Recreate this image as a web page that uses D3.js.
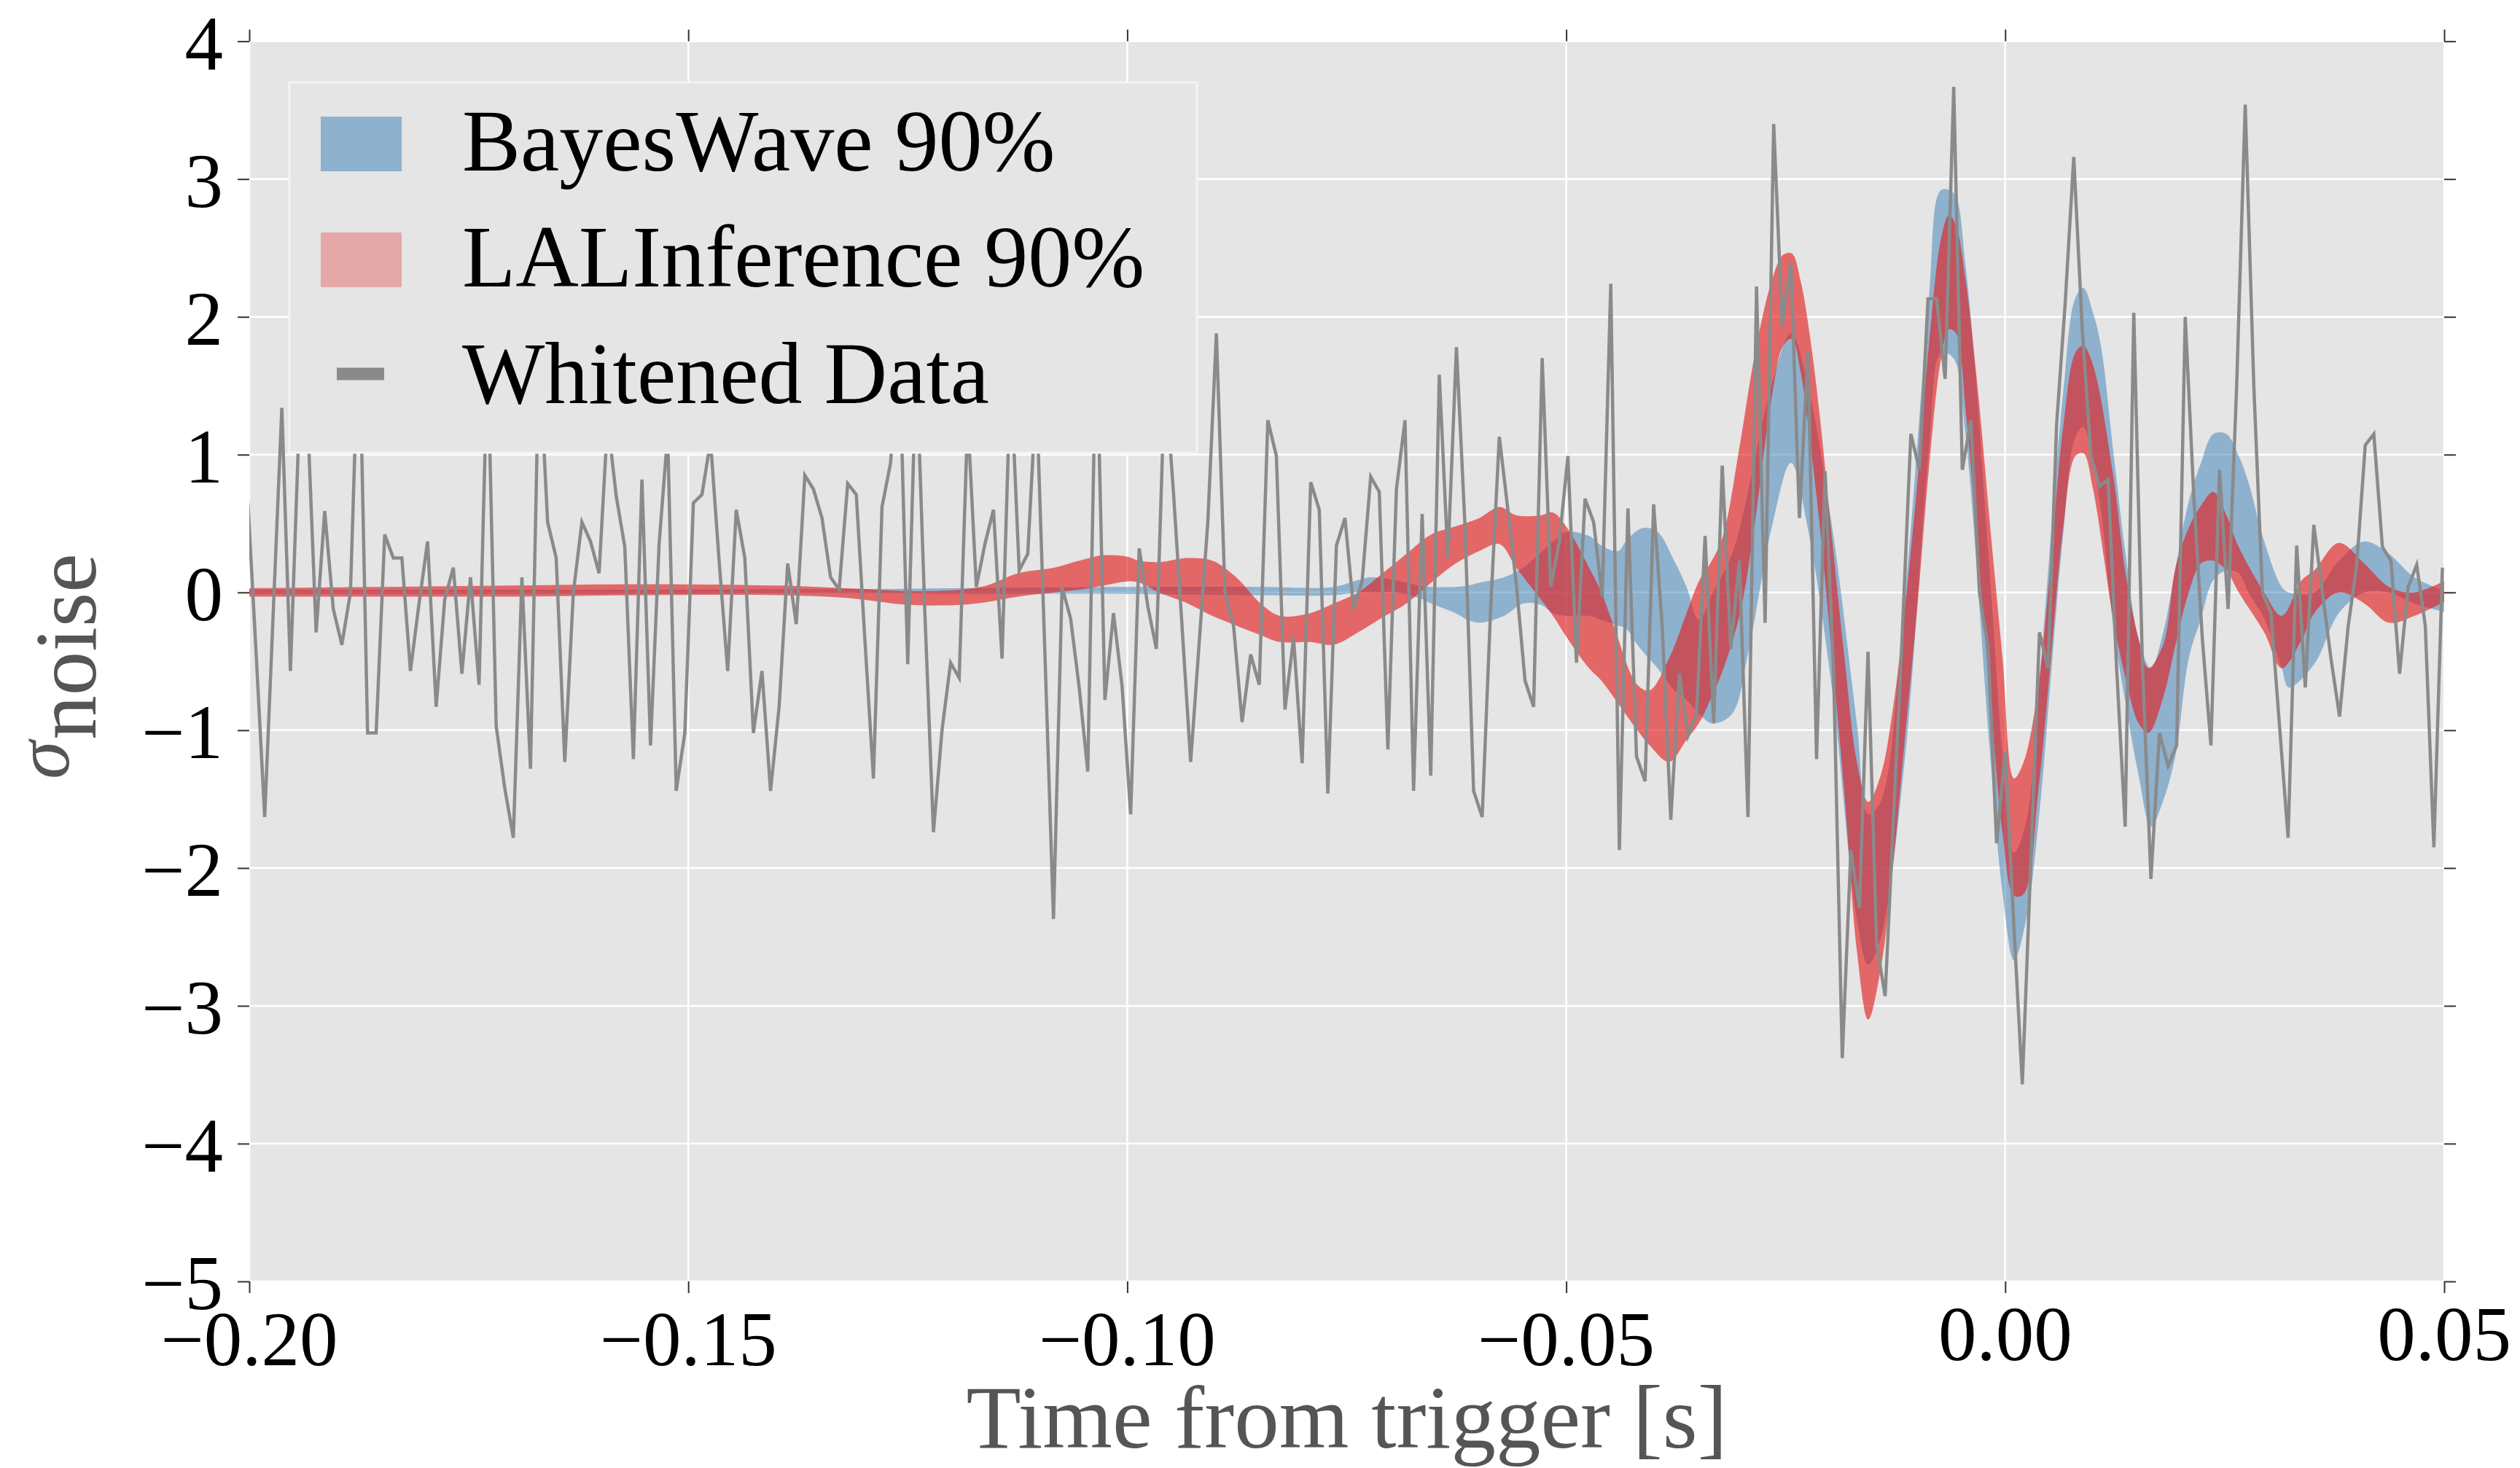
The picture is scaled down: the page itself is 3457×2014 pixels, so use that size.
<!DOCTYPE html>
<html>
<head>
<meta charset="utf-8">
<script src="https://cdn.jsdelivr.net/npm/d3@7"></script>
<style>
  html, body { margin: 0; padding: 0; background: #ffffff; }
  svg { display: block; }
  text { font-family: "Liberation Serif", "Times New Roman", serif; }
</style>
</head>
<body>
<svg id="chart" width="3457" height="2014"></svg>
<script>
// Whitened detector strain, in units of the noise standard deviation.
const sampleRate = 1024;          // samples per second
const tFirst = -0.2002;           // time of the first sample [s]
const whitened = [
  0.70, -0.44, -1.63, -0.14, 1.34, -0.57, 1.20, 1.28, -0.29, 0.59,
  -0.12, -0.38, 0.00, 2.00, -1.02, -1.02, 0.42, 0.25, 0.25, -0.57,
  -0.08, 0.37, -0.83, -0.05, 0.18, -0.59, 0.11, -0.67, 1.75, -0.97,
  -1.42, -1.78, 0.11, -1.28, 1.75, 0.51, 0.25, -1.23, 0.00, 0.51,
  0.37, 0.14, 1.25, 0.70, 0.33, -1.21, 0.82, -1.11, 0.35, 1.15,
  -1.44, -1.02, 0.65, 0.71, 1.10, 0.23, -0.57, 0.60, 0.25, -1.02,
  -0.57, -1.44, -0.83, 0.21, -0.23, 0.85, 0.75, 0.54, 0.11, 0.02,
  0.79, 0.71, -0.34, -1.35, 0.62, 0.94, 1.80, -0.52, 1.70, -0.15,
  -1.74, -1.00, -0.51, -0.62, 1.27, 0.04, 0.35, 0.60, -0.48, 1.60,
  0.16, 0.28, 1.46, -0.44, -2.37, 0.04, -0.19, -0.69, -1.30, 1.95,
  -0.78, -0.15, -0.68, -1.61, 0.32, -0.10, -0.41, 1.60, 0.72, -0.25,
  -1.23, -0.36, 0.51, 1.88, 0.00, -0.24, -0.94, -0.45, -0.67, 1.25,
  0.99, -0.85, -0.33, -1.24, 0.80, 0.60, -1.46, 0.34, 0.54, -0.12,
  0.08, 0.84, 0.73, -1.14, 0.75, 1.25, -1.44, 0.57, -1.33, 1.58,
  0.25, 1.78, 0.48, -1.44, -1.63, -0.10, 1.13, 0.60, 0.05, -0.64,
  -0.83, 1.70, 0.04, 0.37, 0.99, -0.51, 0.68, 0.51, -0.03, 2.24,
  -1.87, 0.61, -1.19, -1.37, 0.64, -0.25, -1.65, -0.59, -1.04, -0.88,
  0.41, -0.95, 0.92, -0.41, 0.23, -1.63, 2.22, -0.22, 3.40, 1.93,
  2.40, 0.54, 1.75, -1.21, 0.88, -0.60, -3.38, -1.87, -2.29, -0.43,
  -2.55, -2.93, -1.60, -0.30, 1.15, 0.89, 2.13, 2.13, 1.55, 3.67,
  0.89, 1.25, 0.00, -0.40, -1.82, -1.16, -2.40, -3.57, -1.94, -0.29,
  -0.55, 1.22, 2.10, 3.16, 1.90, 0.99, 0.77, 0.82, -0.55, -1.70,
  2.03, -0.50, -2.08, -1.02, -1.26, -1.11, 2.00, 0.70, -0.34, -1.11,
  0.89, -0.12, 1.50, 3.54, 1.50, 0.00, -0.15, -0.97, -1.78, 0.34,
  -0.69, 0.49, 0.00, -0.48, -0.90, -0.25, 0.20, 1.07, 1.15, 0.33,
  0.23, -0.59, 0.04, 0.20, -0.24, -1.85, 0.18
];

// BayesWave 90% credible band
const bwTime = [
  -0.2005, -0.16, -0.13, -0.12, -0.10, -0.085, -0.0765, -0.0737, -0.0723, -0.0695,
  -0.0668, -0.0654, -0.0626, -0.0612, -0.0599, -0.0571, -0.0549, -0.0529, -0.0515, -0.0499,
  -0.0474, -0.0460, -0.0441, -0.0432, -0.0419, -0.0410, -0.0396, -0.0377, -0.0363, -0.0349,
  -0.0333, -0.0311, -0.0294, -0.0266, -0.0244, -0.0225, -0.0197, -0.0169, -0.0156, -0.0142,
  -0.0114, -0.0087, -0.0073, -0.0059, -0.0045, -0.0017, -0.0003, 0.0010, 0.0024, 0.0038,
  0.0066, 0.0080, 0.0089, 0.0100, 0.0109, 0.0123, 0.0137, 0.0152, 0.0166, 0.0180,
  0.0194, 0.0209, 0.0223, 0.0237, 0.0252, 0.0266, 0.0277, 0.0295, 0.0315, 0.0323,
  0.0352, 0.0380, 0.0409, 0.0437, 0.0466, 0.0505
];
const bwLower = [
  -0.01, -0.01, -0.005, -0.01, -0.01, -0.02, -0.02, 0.00, 0.00, 0.00,
  -0.04, -0.08, -0.15, -0.20, -0.22, -0.17, -0.08, -0.09, -0.15, -0.17,
  -0.17, -0.20, -0.24, -0.26, -0.38, -0.45, -0.55, -0.71, -0.78, -0.88,
  -0.95, -0.88, -0.48, 0.47, 0.94, 0.47, -0.71, -2.37, -2.70, -2.51,
  -1.19, 1.03, 1.74, 1.70, 1.13, -1.19, -2.18, -2.67, -2.37, -1.66,
  0.42, 1.13, 1.20, 0.94, 0.60, -0.24, -0.80, -1.33, -1.70, -1.51,
  -1.18, -0.48, -0.19, 0.09, 0.16, 0.14, 0.00, -0.19, -0.55, -0.69,
  -0.52, -0.15, 0.00, 0.00, -0.08, -0.15
];
const bwUpper = [
  0.02, 0.02, 0.025, 0.03, 0.04, 0.04, 0.04, 0.09, 0.11, 0.09,
  0.05, 0.04, 0.04, 0.05, 0.07, 0.11, 0.18, 0.29, 0.37, 0.44,
  0.41, 0.34, 0.30, 0.37, 0.45, 0.47, 0.44, 0.23, 0.04, -0.20,
  0.00, 0.28, 0.70, 1.51, 1.88, 1.51, 0.47, -0.95, -1.61, -1.52,
  0.00, 2.12, 2.92, 2.90, 2.36, 0.09, -1.19, -1.89, -1.66, -0.71,
  1.45, 2.14, 2.21, 2.03, 1.79, 1.03, 0.28, -0.34, -0.55, -0.29,
  0.18, 0.66, 0.94, 1.15, 1.15, 0.99, 0.80, 0.37, 0.04, 0.00,
  0.00, 0.23, 0.37, 0.28, 0.11, 0.00
];

// LALInference 90% credible band
const liTime = [
  -0.2005, -0.185, -0.17, -0.155, -0.14, -0.132, -0.125, -0.119, -0.116, -0.1124,
  -0.1083, -0.1055, -0.1027, -0.1000, -0.0986, -0.0964, -0.0931, -0.0903, -0.0876, -0.0848,
  -0.0826, -0.0792, -0.0765, -0.0737, -0.0709, -0.0682, -0.0654, -0.0626, -0.0599, -0.0576,
  -0.0557, -0.0529, -0.0515, -0.0499, -0.0474, -0.0460, -0.0446, -0.0419, -0.0405, -0.0383,
  -0.0363, -0.0349, -0.0336, -0.0322, -0.0302, -0.0286, -0.0266, -0.0253, -0.0243, -0.0233,
  -0.0222, -0.0211, -0.0197, -0.0183, -0.0169, -0.0156, -0.0142, -0.0128, -0.0114, -0.0100,
  -0.0087, -0.0073, -0.0064, -0.0056, -0.0045, -0.0031, -0.0017, -0.0003, 0.0010, 0.0021,
  0.0038, 0.0052, 0.0066, 0.0080, 0.0089, 0.0100, 0.0123, 0.0137, 0.0152, 0.0163,
  0.0180, 0.0194, 0.0209, 0.0223, 0.0237, 0.0252, 0.0266, 0.0295, 0.0315, 0.0338,
  0.0352, 0.0380, 0.0409, 0.0437, 0.0466, 0.0505
];
const liLower = [
  -0.03, -0.03, -0.03, -0.02, -0.02, -0.04, -0.09, -0.09, -0.07, -0.03,
  0.00, 0.02, 0.05, 0.08, 0.07, 0.00, -0.08, -0.17, -0.24, -0.31,
  -0.36, -0.36, -0.38, -0.29, -0.18, -0.08, 0.07, 0.21, 0.30, 0.35,
  0.18, -0.05, -0.17, -0.33, -0.55, -0.64, -0.76, -1.00, -1.11, -1.23,
  -1.07, -0.95, -0.78, -0.57, -0.15, 0.47, 1.41, 1.79, 1.84, 1.60,
  1.08, 0.47, -0.48, -1.47, -2.60, -3.10, -2.74, -1.99, -1.04, -0.10,
  0.89, 1.70, 1.91, 1.88, 1.32, 0.28, -0.76, -1.75, -2.20, -2.19,
  -1.42, -0.48, 0.47, 0.99, 1.01, 0.75, -0.19, -0.62, -0.95, -1.02,
  -0.76, -0.38, 0.00, 0.21, 0.23, 0.16, 0.00, -0.29, -0.55, -0.34,
  -0.15, 0.00, -0.08, -0.22, -0.17, -0.05
];
const liUpper = [
  0.03, 0.04, 0.05, 0.06, 0.05, 0.03, 0.01, 0.02, 0.05, 0.14,
  0.18, 0.23, 0.27, 0.26, 0.23, 0.22, 0.25, 0.23, 0.11, -0.08,
  -0.17, -0.15, -0.08, 0.00, 0.14, 0.28, 0.42, 0.48, 0.54, 0.62,
  0.56, 0.56, 0.58, 0.47, 0.18, 0.00, -0.24, -0.67, -0.71, -0.48,
  -0.15, 0.08, 0.21, 0.40, 1.08, 1.70, 2.26, 2.45, 2.46, 2.26,
  1.84, 1.27, 0.37, -0.48, -1.23, -1.52, -1.33, -0.85, -0.10, 0.80,
  1.79, 2.57, 2.74, 2.66, 2.26, 1.46, 0.47, -0.48, -1.35, -1.23,
  -0.67, 0.23, 1.20, 1.74, 1.79, 1.65, 0.85, 0.14, -0.34, -0.55,
  -0.38, 0.18, 0.47, 0.63, 0.73, 0.56, 0.33, 0.00, -0.17, 0.09,
  0.16, 0.36, 0.21, 0.04, 0.00, 0.10
];

const xTicks = [-0.20, -0.15, -0.10, -0.05, 0.00, 0.05];
const yTicks = [-5, -4, -3, -2, -1, 0, 1, 2, 3, 4];
const legendLabels = ["BayesWave 90%", "LALInference 90%", "Whitened Data"];
const xLabel = "Time from trigger [s]";

// ---- layout -----------------------------------------------------------
const W = 3457, H = 2014;
const plot = { left: 342, right: 3353, top: 56.6, bottom: 1758 };
const colors = {
  bg: "#e5e5e5", grid: "#ffffff", tick: "#333333", label: "#555555",
  blue: "#377eb8", red: "#e41a1c", data: "#8a8a8a"
};

const svg = d3.select("#chart");
const x = d3.scaleLinear().domain([-0.2, 0.05]).range([plot.left, plot.right]);
const y = d3.scaleLinear().domain([-5, 4]).range([plot.bottom, plot.top]);
const minus = s => s.replace("-", "\u2212");

svg.append("rect").attr("width", W).attr("height", H).attr("fill", "#ffffff");

svg.append("defs").append("clipPath").attr("id", "plotClip")
  .append("rect")
  .attr("x", plot.left).attr("y", plot.top)
  .attr("width", plot.right - plot.left).attr("height", plot.bottom - plot.top);

// axes background and grid
svg.append("rect")
  .attr("x", plot.left).attr("y", plot.top)
  .attr("width", plot.right - plot.left).attr("height", plot.bottom - plot.top)
  .attr("fill", colors.bg);

const grid = svg.append("g").attr("stroke", colors.grid).attr("stroke-width", 2.5);
grid.selectAll("line.gx").data(xTicks).join("line").attr("class", "gx")
  .attr("x1", d => x(d)).attr("x2", d => x(d))
  .attr("y1", plot.top).attr("y2", plot.bottom);
grid.selectAll("line.gy").data(yTicks).join("line").attr("class", "gy")
  .attr("x1", plot.left).attr("x2", plot.right)
  .attr("y1", d => y(d)).attr("y2", d => y(d));

// tick marks on all four sides, pointing outward
const tickLen = 16;
function styleAxis(g) {
  g.select(".domain").remove();
  g.selectAll(".tick line").attr("stroke", colors.tick).attr("stroke-width", 2);
  g.selectAll(".tick text").remove();
}
svg.append("g").attr("transform", `translate(0,${plot.bottom})`)
  .call(d3.axisBottom(x).tickValues(xTicks).tickSize(tickLen).tickSizeOuter(0)).call(styleAxis);
svg.append("g").attr("transform", `translate(0,${plot.top})`)
  .call(d3.axisTop(x).tickValues(xTicks).tickSize(tickLen).tickSizeOuter(0)).call(styleAxis);
svg.append("g").attr("transform", `translate(${plot.left},0)`)
  .call(d3.axisLeft(y).tickValues(yTicks).tickSize(tickLen).tickSizeOuter(0)).call(styleAxis);
svg.append("g").attr("transform", `translate(${plot.right},0)`)
  .call(d3.axisRight(y).tickValues(yTicks).tickSize(tickLen).tickSizeOuter(0)).call(styleAxis);

// data layers
const layers = svg.append("g").attr("clip-path", "url(#plotClip)");

function bandRows(times, lo, hi) {
  return times.map((t, i) => ({ t, lo: lo[i], hi: hi[i] }));
}
const band = d3.area()
  .x(d => x(d.t)).y0(d => y(d.lo)).y1(d => y(d.hi))
  .curve(d3.curveCatmullRom.alpha(0.5));

layers.append("path").datum(bandRows(bwTime, bwLower, bwUpper))
  .attr("d", band).attr("fill", colors.blue).attr("fill-opacity", 0.5);
layers.append("path").datum(bandRows(liTime, liLower, liUpper))
  .attr("d", band).attr("fill", colors.red).attr("fill-opacity", 0.62);

const series = whitened.map((v, i) => ({ t: tFirst + i / sampleRate, v }));
layers.append("path").datum(series)
  .attr("d", d3.line().x(d => x(d.t)).y(d => y(d.v)))
  .attr("fill", "none").attr("stroke", colors.data)
  .attr("stroke-width", 4.5).attr("stroke-linejoin", "miter");

// tick labels
const fsTick = 105;
svg.append("g").selectAll("text").data(xTicks).join("text")
  .attr("x", d => x(d))
  .attr("y", d => plot.bottom + (d < 0 ? 115 : 108))
  .attr("text-anchor", "middle").attr("font-size", fsTick).attr("fill", "#000")
  .text(d => minus(d3.format(".2f")(d)));
svg.append("g").selectAll("text").data(yTicks).join("text")
  .attr("x", 306)
  .attr("y", d => y(d) + 38)
  .attr("text-anchor", "end").attr("font-size", fsTick).attr("fill", "#000")
  .text(d => minus(String(d)));

// axis titles
svg.append("text")
  .attr("x", (plot.left + plot.right) / 2).attr("y", 1986)
  .attr("text-anchor", "middle").attr("font-size", 123).attr("fill", colors.label)
  .text(xLabel);

const yTitle = svg.append("text")
  .attr("transform", "rotate(-90)")
  .attr("x", -1069).attr("y", 94)
  .attr("fill", colors.label);
yTitle.append("tspan").attr("font-style", "italic").attr("font-size", 106).text("\u03c3");
yTitle.append("tspan").attr("font-size", 121).attr("dy", 37).attr("dx", 2).text("noise");

// legend
const legend = svg.append("g");
legend.append("rect")
  .attr("x", 397).attr("y", 113).attr("width", 1245).attr("height", 508)
  .attr("fill", colors.bg).attr("stroke", "#f4f4f4").attr("stroke-width", 3);

const rowBase = [234, 393, 553];
const handles = [
  { kind: "patch", color: colors.blue, opacity: 0.5 },
  { kind: "patch", color: colors.red, opacity: 0.3 },
  { kind: "line", color: colors.data }
];
handles.forEach((h, i) => {
  if (h.kind === "patch") {
    legend.append("rect")
      .attr("x", 440).attr("y", rowBase[i] - 74).attr("width", 111).attr("height", 75)
      .attr("fill", h.color).attr("fill-opacity", h.opacity);
  } else {
    legend.append("line")
      .attr("x1", 462).attr("x2", 527).attr("y1", rowBase[i] - 40).attr("y2", rowBase[i] - 40)
      .attr("stroke", h.color).attr("stroke-width", 17);
  }
});
legend.selectAll("text.lab").data(legendLabels).join("text").attr("class", "lab")
  .attr("x", 634).attr("y", (d, i) => rowBase[i])
  .attr("font-size", 120).attr("fill", "#000")
  .text(d => d);
</script>
</body>
</html>
